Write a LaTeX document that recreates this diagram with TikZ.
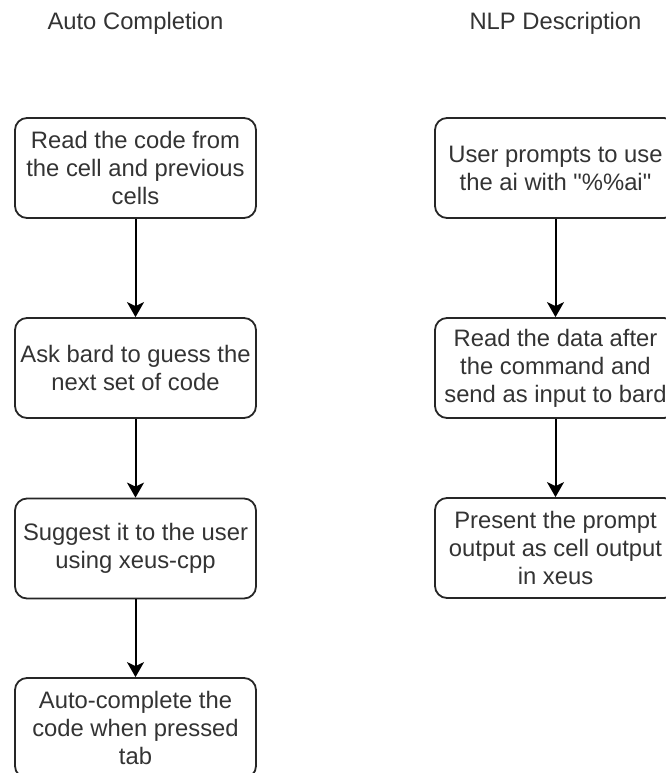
\documentclass[tikz,border=0pt]{standalone}
\usepackage{fontspec}
\setmainfont{Liberation Sans}
\usetikzlibrary{positioning,arrows.meta,calc,shapes}
\tikzset{
    x=1pt,
    y=1pt,
    auto,
    stage/.style = {
        draw=black!85,
        shape=rectangle,
        rounded corners=12pt,
        minimum height=100pt,
        minimum width=241pt,
        line width=1.8pt,
        align=center,
        text=black!80,
        font=\fontsize{23.8}{28}\selectfont
    },
    heading/.style = {
        text=black!80,
        font=\fontsize{23.8}{28}\selectfont
    },
    >={Stealth[length=15pt,width=17pt,inset=4pt]},
}
\begin{document}
\begin{tikzpicture}

            \useasboundingbox (0,0) rectangle (666,-773);

            \node[heading] (auto_title) at (135.5,-23) {Auto Completion};
            \node[heading] (nlp_title) at (555.5,-23) {NLP Description};

            \node[stage] (read_code) at (135.5,-168) {Read the code from\\the cell and previous\\cells};
            \node[stage] (ask_bard) at (135.5,-368) {Ask bard to guess the\\next set of code};
            \node[stage] (suggest) at (135.5,-548.5) {Suggest it to the user\\using xeus-cpp};
            \node[stage] (complete) at (135.5,-728) {Auto-complete the\\code when pressed\\tab};

            \node[stage] (prompt) at (555.5,-168) {User prompts to use\\the ai with \textquotedbl\%\%ai\textquotedbl};
            \node[stage] (read_data) at (555.5,-368) {Read the data after\\the command and\\send as input to bard};
            \node[stage] (present) at (555.5,-548) {Present the prompt\\output as cell output\\in xeus};

            \path[draw, ->, line width=2pt] (read_code.270) -- (ask_bard.90);
            \path[draw, ->, line width=2pt] (ask_bard.270) -- (suggest.90);
            \path[draw, ->, line width=2pt] (suggest.270) -- (complete.90);

            \path[draw, ->, line width=2pt] (prompt.270) -- (read_data.90);
            \path[draw, ->, line width=2pt] (read_data.270) -- (present.90);

        \end{tikzpicture}
\end{document}
